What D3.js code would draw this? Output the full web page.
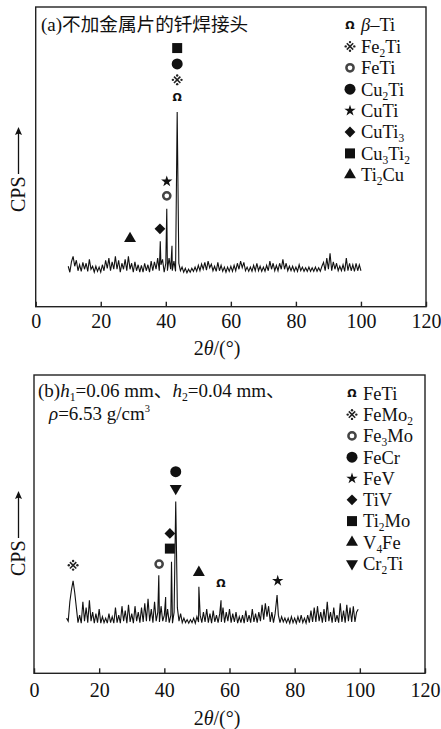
<!DOCTYPE html>
<html>
<head>
<meta charset="utf-8">
<script src="https://cdn.jsdelivr.net/npm/d3@7"></script>
<style>
  body { margin: 0; background: #fff; }
</style>
</head>
<body>
<script>
const xTicks = [0, 20, 40, 60, 80, 100, 120]
const scanStart = 10
const scanStep = 0.5

// (a) background counts, 10.0 .. 100.0 every 0.5 deg
const noiseA = [
  13.5, 11.5, 15.0, 16.8, 13.5, 15.5, 12.0, 14.0, 11.8, 14.8,
  12.5, 14.5, 11.8, 15.8, 12.5, 13.5, 11.5, 13.5, 11.8, 13.2,
  11.5, 14.0, 12.0, 15.5, 12.8, 16.2, 12.0, 15.0, 12.5, 16.8,
  12.5, 15.5, 11.5, 14.5, 12.5, 15.8, 12.0, 16.8, 12.5, 14.5,
  11.5, 15.0, 12.0, 14.0, 11.5, 13.8, 11.5, 14.5, 12.0, 14.0,
  11.5, 15.2, 12.0, 15.0, 12.5, 16.2, 12.0, 14.0, 15.8, 11.5,
  14.5, 12.0, 16.2, 12.5, 12.0, 15.2, 11.8, 13.0, 14.5, 12.0,
  13.2, 11.5, 12.8, 11.3, 12.5, 11.5, 12.8, 11.8, 13.2, 11.8,
  13.8, 12.0, 14.2, 12.5, 14.8, 12.2, 15.2, 13.0, 14.2, 12.0,
  13.5, 11.8, 14.8, 12.0, 13.8, 11.8, 13.2, 11.5, 13.2, 11.8,
  13.5, 11.8, 13.8, 12.0, 14.5, 12.5, 15.2, 13.0, 14.8, 12.0,
  13.2, 11.8, 13.2, 11.8, 13.8, 12.0, 14.5, 12.0, 13.5, 11.8,
  13.2, 11.8, 13.8, 12.0, 15.2, 12.5, 14.5, 12.0, 13.8, 12.0,
  14.5, 12.5, 15.8, 12.5, 14.5, 12.0, 13.5, 12.0, 13.5, 11.8,
  13.2, 11.8, 14.0, 12.0, 13.2, 11.8, 13.0, 11.8, 13.2, 11.8,
  13.0, 11.8, 13.2, 11.8, 13.0, 11.8, 13.5, 14.8, 12.0, 16.2,
  12.5, 17.8, 12.0, 15.0, 12.5, 14.5, 12.0, 13.5, 12.0, 14.0,
  11.8, 16.2, 12.0, 14.5, 12.0, 14.0, 11.8, 14.5, 12.0, 14.0,
  12.0
]
const peaksA = [[38.3, 21.8], [40.3, 32.7], [41.9, 20.3], [43.5, 65]]
const markersA = [
  ['omega', 43.5, 70.1], ['asterism', 43.5, 75.7], ['circle', 43.5, 81], ['square', 43.5, 86.3],
  ['star', 40.3, 41.8], ['ring', 40.3, 37], ['diamond', 38.2, 26], ['triangle', 29.0, 22.7]
]
const legendA = [
  ['omega', 'β–Ti'], ['asterism', 'Fe2Ti'], ['ring', 'FeTi'], ['circle', 'Cu2Ti'],
  ['star', 'CuTi'], ['diamond', 'CuTi3'], ['square', 'Cu3Ti2'], ['triangle', 'Ti2Cu']
]
const titleA = [[['(a)', 'n'], ['不加金属片的钎焊接头', 'cjk']]]

// (b) background counts, 10.0 .. 99.5 every 0.5 deg
const noiseB = [
  18.5, 17.5, 24.0, 28.0, 31.0, 27.0, 22.0, 17.0, 19.5, 16.8,
  24.0, 17.5, 22.0, 17.0, 24.5, 17.5, 20.5, 16.8, 20.0, 17.0,
  21.5, 16.8, 19.0, 17.0, 18.5, 16.8, 20.0, 17.0, 19.0, 16.8,
  22.0, 17.0, 19.5, 16.8, 22.5, 17.5, 21.0, 16.8, 23.0, 17.2,
  20.0, 16.8, 22.5, 17.5, 20.5, 17.0, 22.0, 17.2, 23.5, 17.5,
  25.0, 17.5, 21.5, 17.0, 24.0, 17.5, 20.5, 17.2, 22.5, 17.5,
  19.5, 17.2, 21.5, 17.0, 19.5, 16.8, 20.5, 20.0, 22.0, 17.5,
  20.0, 17.0, 18.5, 17.0, 18.0, 16.8, 18.0, 17.0, 18.5, 16.8,
  19.0, 17.2, 19.5, 17.0, 20.5, 17.2, 21.5, 17.0, 20.0, 16.8,
  21.0, 17.2, 19.5, 17.0, 20.0, 17.2, 22.0, 17.0, 20.5, 17.5,
  21.5, 17.0, 20.0, 17.2, 20.5, 16.8, 19.0, 17.0, 19.5, 16.8,
  21.0, 17.2, 19.5, 17.0, 21.5, 17.2, 20.0, 17.0, 20.5, 17.5,
  23.0, 18.0, 23.5, 19.0, 22.5, 17.2, 20.5, 17.0, 20.0, 17.2,
  19.5, 17.0, 19.0, 17.2, 18.5, 17.0, 18.5, 16.8, 19.0, 17.0,
  18.5, 16.8, 19.0, 17.0, 19.5, 17.0, 18.5, 16.8, 19.5, 17.0,
  21.0, 17.2, 22.0, 17.2, 22.5, 17.5, 20.5, 17.0, 21.5, 17.2,
  24.0, 17.5, 20.5, 17.0, 22.0, 17.2, 19.5, 17.0, 23.5, 17.2,
  21.0, 17.0, 23.0, 17.5, 22.0, 17.2, 22.5, 17.2, 20.5, 21.5
]
const peaksB = [[38.3, 32.9], [40.4, 25.6], [42.2, 37.4], [43.5, 57.6], [50.6, 29], [57.4, 24.5], [74.6, 26.2]]
const markersB = [
  ['circle', 43.5, 67.6], ['down', 43.5, 62], ['diamond', 41.7, 46.9], ['square', 41.7, 41.8],
  ['ring', 38.4, 36.6], ['asterism', 12.0, 36.2], ['triangle', 50.6, 33.8], ['omega', 57.4, 30.3], ['star', 74.8, 31]
]
const legendB = [
  ['omega', 'FeTi'], ['asterism', 'FeMo2'], ['ring', 'Fe3Mo'], ['circle', 'FeCr'], ['star', 'FeV'],
  ['diamond', 'TiV'], ['square', 'Ti2Mo'], ['triangle', 'V4Fe'], ['down', 'Cr2Ti']
]
const titleB = [
  [['(b)', 'n'], ['h', 'i'], ['1', 'sub'], ['=0.06 mm', 'n'], ['、', 'cjk'], ['h', 'i'], ['2', 'sub'], ['=0.04 mm', 'n'], ['、', 'cjk']],
  [['ρ', 'i'], ['=6.53 g/cm', 'n'], ['3', 'sup']]
]
const xTitle = [['2', 'n'], ['θ', 'i'], ['/(°)', 'n']]

const serif = '"Liberation Serif", "Times New Roman", "DejaVu Serif", serif'
const cjk = '"Noto Sans CJK SC", "Noto Sans CJK JP", sans-serif'

const panels = [
  { noise: noiseA, peaks: peaksA, markers: markersA, legend: legendA, title: titleA,
    x0: 35.7, x1: 426, top: 7, bottom: 306.7, tickPad: 7.4, xLabelY: 355,
    legX: 350, legY: 25, legStep: 21.4, yLabelY: 170, titleX: [41, 41], titleY: [31] },
  { noise: noiseB, peaks: peaksB, markers: markersB, legend: legendB, title: titleB,
    x0: 34, x1: 425, top: 375, bottom: 673.3, tickPad: 9.2, xLabelY: 725,
    legX: 352, legY: 393.3, legStep: 21.3, yLabelY: 534, titleX: [38, 49], titleY: [396.5, 420] }
]

const svg = d3.select('body').append('svg')
  .attr('width', 441)
  .attr('height', 729)
  .style('font-family', serif)

function txt(g) {
  return g.append('text').attr('fill', '#111').style('font-family', serif)
}

function richText(t, segs, size) {
  let shift = 0
  segs.forEach(function(s) {
    const ts = t.append('tspan').text(s[0])
    let want = 0
    if (s[1] === 'sub') { want = 4; ts.attr('font-size', size * 0.62) }
    if (s[1] === 'sup') { want = -8; ts.attr('font-size', size * 0.55) }
    if (s[1] === 'i') ts.attr('font-style', 'italic')
    if (s[1] === 'cjk') ts.style('font-family', cjk).attr('font-size', size * 0.98)
    if (want !== shift) { ts.attr('dy', want - shift); shift = want }
  })
}

function legendLabel(t, str, size) {
  const segs = str.match(/β|\d+|[^\dβ]+/g).map(function(p) {
    return [p, /^\d+$/.test(p) ? 'sub' : (p === 'β' ? 'i' : 'n')]
  })
  richText(t, segs, size)
}

function drawSym(g, type, x, y) {
  const tr = 'translate(' + x + ',' + y + ')'
  if (type === 'omega') {
    g.append('text').attr('x', x).attr('y', y).attr('dy', '0.37em')
      .attr('text-anchor', 'middle').attr('fill', '#111')
      .style('font-family', '"DejaVu Sans", sans-serif').style('font-weight', 'bold')
      .attr('font-size', 11).text('Ω')
  } else if (type === 'asterism') {
    const s = g.append('g').attr('transform', tr).attr('fill', '#222').attr('stroke', '#222')
    s.append('path').attr('d', 'M-3.2,-3.2L3.2,3.2M3.2,-3.2L-3.2,3.2')
      .attr('stroke-width', 1.6).attr('fill', 'none')
    ;[[0, -4.3], [4.3, 0], [0, 4.3], [-4.3, 0]].forEach(function(d) {
      s.append('circle').attr('cx', d[0]).attr('cy', d[1]).attr('r', 1.2).attr('stroke', 'none')
    })
  } else if (type === 'ring') {
    g.append('circle').attr('cx', x).attr('cy', y).attr('r', 3.6)
      .attr('fill', '#fff').attr('stroke', '#444').attr('stroke-width', 2.5)
  } else {
    const sym = { circle: [d3.symbolCircle, 95, 0], star: [d3.symbolStar, 40, 0],
      diamond: [d3.symbolSquare, 58, 45], square: [d3.symbolSquare, 100, 0],
      triangle: [d3.symbolTriangle, 62, 0], down: [d3.symbolTriangle, 62, 180] }[type]
    g.append('path').attr('d', d3.symbol().type(sym[0]).size(sym[1])())
      .attr('transform', tr + ' rotate(' + sym[2] + ')')
      .attr('fill', '#111')
  }
}

panels.forEach(function(p) {
  const x = d3.scaleLinear().domain([0, 120]).range([p.x0, p.x1])
  const y = d3.scaleLinear().domain([0, 100]).range([p.bottom, p.top])
  const g = svg.append('g')

  // spectrum: background points plus diffraction peaks
  let pts = p.noise.map(function(v, i) { return [scanStart + i * scanStep, v] })
  pts = pts.filter(function(d) {
    return !p.peaks.some(function(k) { return Math.abs(k[0] - d[0]) < 0.1 })
  })
  pts = pts.concat(p.peaks).sort(function(a, b) { return a[0] - b[0] })

  g.append('path')
    .datum(pts)
    .attr('fill', 'none')
    .attr('stroke', '#111')
    .attr('stroke-width', 1.1)
    .attr('d', d3.line().x(function(d) { return x(d[0]) }).y(function(d) { return y(d[1]) }))

  // frame
  g.append('rect')
    .attr('x', p.x0).attr('y', p.top)
    .attr('width', p.x1 - p.x0).attr('height', p.bottom - p.top)
    .attr('fill', 'none').attr('stroke', '#222').attr('stroke-width', 1.4)

  const ax = g.append('g')
    .attr('transform', 'translate(0,' + p.bottom + ')')
    .call(d3.axisBottom(x).tickValues(xTicks).tickSize(-5).tickSizeOuter(0).tickPadding(p.tickPad))
  ax.select('.domain').remove()
  ax.selectAll('line').attr('stroke', '#222').attr('stroke-width', 1.4)
  ax.attr('font-family', serif).attr('font-size', 20)
  ax.selectAll('text').attr('fill', '#111').style('font-family', serif)

  // axis titles
  const xt = txt(g).attr('x', 217).attr('y', p.xLabelY)
    .attr('text-anchor', 'middle').attr('font-size', 20)
  richText(xt, xTitle, 20)

  const yl = g.append('g').attr('transform', 'translate(25,' + p.yLabelY + ') rotate(-90)')
  txt(yl).attr('x', -42).attr('y', 0).attr('font-size', 20).text('CPS')
  yl.append('line').attr('x1', -4).attr('x2', 38).attr('y1', -6.5).attr('y2', -6.5)
    .attr('stroke', '#111').attr('stroke-width', 1.3)
  yl.append('path').attr('d', 'M43,-6.5 L35,-10 L36.5,-6.5 L35,-3 Z').attr('fill', '#111')

  // panel title
  p.title.forEach(function(line, i) {
    const t = txt(g).attr('x', p.titleX[i]).attr('y', p.titleY[i]).attr('font-size', 19)
    richText(t, line, 19)
  })

  // peak markers
  p.markers.forEach(function(m) { drawSym(g, m[0], x(m[1]), y(m[2])) })

  // legend
  p.legend.forEach(function(l, i) {
    const cy = p.legY + i * p.legStep
    drawSym(g, l[0], p.legX, cy)
    const t = txt(g).attr('x', p.legX + 11).attr('y', cy + 6.3).attr('font-size', 18.5)
    legendLabel(t, l[1], 18.5)
  })
})
</script>
</body>
</html>
